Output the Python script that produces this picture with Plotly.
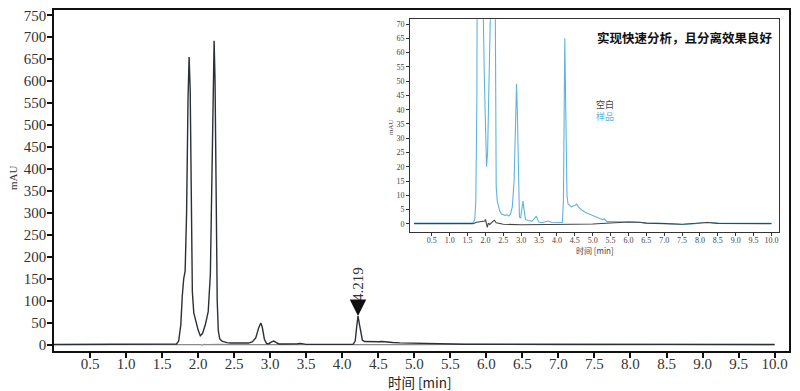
import plotly.graph_objects as go

# ---------------- data ----------------
# sample chromatogram (time in min, absorbance in mAU)
sample_time = [0.00, 0.50, 1.00, 1.50, 1.65, 1.70, 1.73, 1.76, 1.78, 1.80, 1.82, 1.84, 1.86, 1.875,
               1.89, 1.905, 1.92, 1.94, 1.97, 2.00, 2.03, 2.06, 2.10, 2.14, 2.17, 2.19, 2.21, 2.222,
               2.235, 2.25, 2.265, 2.28, 2.30, 2.33, 2.36, 2.40, 2.45, 2.50, 2.55, 2.60, 2.65, 2.70,
               2.75, 2.80, 2.84, 2.87, 2.89, 2.92, 2.95, 2.98, 3.02, 3.05, 3.08, 3.12, 3.20, 3.30,
               3.38, 3.42, 3.46, 3.50, 3.60, 3.75, 3.85, 4.00, 4.15, 4.18, 4.20, 4.219, 4.24, 4.26,
               4.28, 4.31, 4.40, 4.50, 4.55, 4.60, 4.70, 4.80, 4.90, 5.00, 5.10, 5.20, 5.28, 5.32,
               5.40, 5.50, 5.70, 6.00, 6.30, 6.50, 7.00, 7.50, 7.80, 8.20, 8.50, 9.00, 10.00]
sample_mau = [0.3, 0.3, 0.3, 0.3, 0.3, 1.5, 8, 45, 110, 150, 168, 300, 560, 655,
              580, 300, 120, 72, 50, 33, 20, 25, 45, 75, 160, 400, 640, 692,
              600, 300, 100, 32, 13, 8, 6, 4.5, 3.5, 3.2, 3.0, 3.2, 2.8, 3.5,
              6, 15, 38, 49, 40, 12, 2.5, 2.0, 6, 8, 5, 1.5, 1.2, 1.0,
              2.0, 2.8, 1.5, 0.6, 0.5, 1.0, 0.6, 0.5, 0.5, 8, 40, 65, 45, 22,
              10, 7, 6.0, 6.5, 7.0, 6.0, 4.8, 4.0, 3.5, 3.0, 2.5, 2.0, 1.5, 1.8,
              0.8, 0.8, 0.8, 0.7, 0.6, 0.3, 0.2, -0.2, 0.0, 0.6, 0.3, 0.2, 0.2]

# blank chromatogram
blank_time = [0.00, 1.65, 1.75, 1.90, 1.98, 2.00, 2.03, 2.05, 2.08, 2.12, 2.20, 2.25, 2.30,
              2.50, 3.00, 4.00, 4.50, 5.00, 5.50, 5.80, 6.00, 6.30, 6.50, 7.00, 7.50, 8.20,
              8.50, 10.00]
blank_mau = [0.1, 0.1, 0.6, 0.9, 1.0, 1.6, 0.2, -1.2, 0.3, -0.2, 0.8, 1.3, 0.4,
             -0.1, -0.3, -0.3, -0.1, 0.0, 0.4, 0.6, 0.7, 0.6, 0.3, 0.1, -0.1, 0.5,
             0.2, 0.1]

# labelled peak
peak_time = 4.219
peak_mau = 65
peak_label = "4.219"

# tick values
main_x_ticks = [0.5, 1.0, 1.5, 2.0, 2.5, 3.0, 3.5, 4.0, 4.5, 5.0, 5.5, 6.0, 6.5, 7.0, 7.5,
                8.0, 8.5, 9.0, 9.5, 10.0]
main_y_ticks = [0, 50, 100, 150, 200, 250, 300, 350, 400, 450, 500, 550, 600, 650, 700, 750]
inset_y_ticks = [0, 5, 10, 15, 20, 25, 30, 35, 40, 45, 50, 55, 60, 65, 70]

# text
x_title = "时间 [min]"
y_title = "mAU"
inset_title = "实现快速分析，且分离效果良好"
legend_blank = "空白"
legend_sample = "样品"

# ---------------- figure ----------------
DARK = "#2b2f36"
BLUE = "#5fb3dc"
SERIF = "Liberation Serif"
CJK = "Noto Sans CJK SC"

fig = go.Figure()

# main chart
fig.add_trace(go.Scatter(x=blank_time, y=blank_mau, mode="lines",
                         line=dict(color="#8a8a8a", width=1.2), xaxis="x", yaxis="y",
                         hoverinfo="skip"))
fig.add_trace(go.Scatter(x=sample_time, y=sample_mau, mode="lines",
                         line=dict(color=DARK, width=1.4), xaxis="x", yaxis="y"))

# inset
fig.add_trace(go.Scatter(x=sample_time, y=sample_mau, mode="lines",
                         line=dict(color=BLUE, width=1.1), xaxis="x2", yaxis="y2"))
fig.add_trace(go.Scatter(x=blank_time, y=blank_mau, mode="lines",
                         line=dict(color="#444444", width=1.1), xaxis="x2", yaxis="y2"))

axis_common = dict(showgrid=False, zeroline=False, showline=True, mirror=True,
                   ticks="outside", automargin=False, ticklabeloverflow="allow")

# the page body has an 8px default margin, so the figure is sized to fill the rest
fig.update_layout(
    template="none",
    width=792, height=383,
    margin=dict(l=46, r=11, t=2, b=40.3, autoexpand=False),
    paper_bgcolor="white", plot_bgcolor="white",
    showlegend=False,
    xaxis=dict(range=[0, 10.2], tickvals=main_x_ticks,
               ticktext=[f"{v:.1f}" for v in main_x_ticks],
               linecolor="#111", linewidth=1.6, tickcolor="#111", ticklen=5, tickwidth=1.5,
               ticklabelstandoff=-7,
               tickfont=dict(family=SERIF, size=15, color="#333"), **axis_common),
    yaxis=dict(range=[-14.6, 762], tickvals=main_y_ticks,
               linecolor="#111", linewidth=1.6, tickcolor="#111", ticklen=5, tickwidth=1.5,
               ticklabelstandoff=-2,
               tickfont=dict(family=SERIF, size=15, color="#333"), **axis_common),
    xaxis2=dict(domain=[0.4844, 0.9864], anchor="y2", range=[-0.11, 10.21],
                tickvals=main_x_ticks, ticktext=[f"{v:.1f}" for v in main_x_ticks],
                linecolor="#333", linewidth=1, tickcolor="#333", ticklen=3, tickwidth=1,
                ticklabelstandoff=-2,
                tickfont=dict(family=SERIF, size=8, color="#444"), **axis_common),
    yaxis2=dict(domain=[0.35, 0.9727], anchor="x2", range=[-2.7, 71.65],
                tickvals=inset_y_ticks,
                linecolor="#333", linewidth=1, tickcolor="#333", ticklen=3, tickwidth=1,
                tickfont=dict(family=SERIF, size=8, color="#444"), **axis_common),
)

annotations = [
    # main axis titles
    dict(text=x_title, xref="paper", yref="paper", x=0.498, y=-0.09,
         showarrow=False, font=dict(family=CJK, size=13.5, color="#222"),
         xanchor="center", yanchor="middle"),
    dict(text=y_title, xref="paper", yref="paper", x=-0.0558, y=0.51, textangle=-90,
         showarrow=False, font=dict(family=SERIF, size=11, color="#333"),
         xanchor="center", yanchor="middle"),
    # peak label with marker
    dict(text=peak_label, x=peak_time, y=peak_mau, xref="x", yref="y",
         textangle=-90, showarrow=True, arrowhead=2, arrowsize=2.2, arrowwidth=1.5,
         arrowcolor="#111", ax=0, ay=-32, standoff=0,
         font=dict(family=SERIF, size=15, color="#333")),
    # inset texts
    dict(text=f"<b>{inset_title}</b>", xref="x2 domain", yref="y2 domain", x=0.989, y=0.912,
         showarrow=False, xanchor="right", yanchor="middle",
         font=dict(family=CJK, size=12.5, color="#111")),
    dict(text=legend_blank, xref="x2", yref="y2", x=5.03, y=41.9, showarrow=False,
         xanchor="left", yanchor="middle", font=dict(family=CJK, size=9, color="#444")),
    dict(text=legend_sample, xref="x2", yref="y2", x=5.03, y=37.7, showarrow=False,
         xanchor="left", yanchor="middle", font=dict(family=CJK, size=9, color=BLUE)),
    dict(text=y_title, xref="paper", yref="paper", x=0.4585, y=0.6566, textangle=-90,
         showarrow=False, font=dict(family=SERIF, size=7, color="#444"),
         xanchor="center", yanchor="middle"),
    dict(text=x_title, xref="paper", yref="paper", x=0.736, y=0.296,
         showarrow=False, font=dict(family=CJK, size=8, color="#444"),
         xanchor="center", yanchor="middle"),
]
fig.update_layout(annotations=annotations)

fig.write_html("out.html")
